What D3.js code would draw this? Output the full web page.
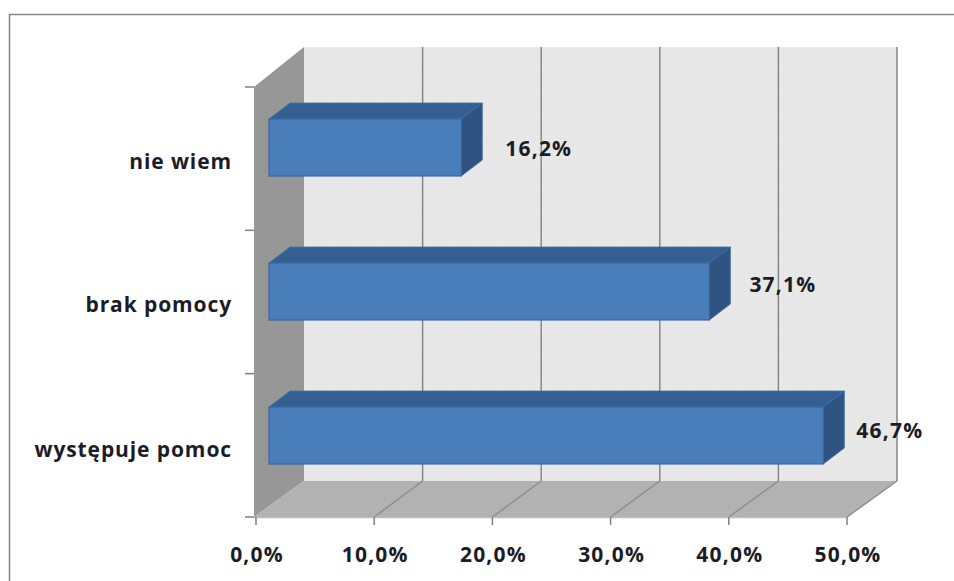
<!DOCTYPE html>
<html><head><meta charset="utf-8">
<script src="https://cdnjs.cloudflare.com/ajax/libs/d3/7.8.5/d3.min.js"></script>
<style>html,body{margin:0;padding:0;background:#fff;overflow:hidden}svg{display:block}
text{font-family:"Open Sans",sans-serif;font-weight:700;fill:#1c1c26;font-size:21px}</style></head>
<body><svg id="c" width="954" height="581"></svg>
<script>
const categories = ["nie wiem","brak pomocy","występuje pomoc"];
const values = [16.2,37.1,46.7];
const valueLabels = ["16,2%","37,1%","46,7%"];
const ticks = [0,10,20,30,40,50];
const tickLabels = ["0,0%","10,0%","20,0%","30,0%","40,0%","50,0%"];

const svg = d3.select("#c");
const x = d3.scaleLinear().domain([0,50]).range([256,847]);
const xBack = d3.scaleLinear().domain([0,50]).range([304,897]);
const xBar = d3.scaleLinear().domain([0,50]).range([269,862.5]);
const y = d3.scaleBand().domain(categories).range([87,517]);
const yBar = d3.scaleBand().domain(categories).range([119,551]);
const yT=y.range()[0], yB=y.range()[1], yBackT=47, yBackB=481;
const barH=57, barDx=21, barDy=-16;
const labelDx=[44,40,33], labelDy=[37,29,31], catDy=[50,49,50];
const pts = a => a.map(p=>p.join(",")).join(" ");

const defs=svg.append("defs");
const pat=defs.append("pattern").attr("id","dots").attr("width",3).attr("height",3).attr("patternUnits","userSpaceOnUse");
pat.append("rect").attr("width",3).attr("height",3).attr("fill","#e8e8e8");
pat.append("rect").attr("width",1).attr("height",1).attr("fill","#e2e2e2");

svg.append("rect").attr("x",9.5).attr("y",14.5).attr("width",960).attr("height",580)
  .attr("fill","#fff").attr("stroke","#868686").attr("stroke-width",1.5);

const x0=x(0), x1=x(50);
svg.append("rect").attr("x",xBack(0)).attr("y",yBackT).attr("width",xBack(50)-xBack(0)).attr("height",yBackB-yBackT).attr("fill","url(#dots)");
svg.append("polygon").attr("points",pts([[x0-2,yT],[xBack(0),yBackT],[xBack(0),yBackB],[x0-2,yB]])).attr("fill","#979797");
svg.append("polygon").attr("points",pts([[x0-2,yB],[xBack(0),yBackB],[xBack(50),yBackB],[x1,yB]])).attr("fill","#b2b2b2");

ticks.slice(1).forEach(t=>{
  svg.append("line").attr("x1",xBack(t)).attr("x2",xBack(t)).attr("y1",yBackT).attr("y2",yBackB)
    .attr("stroke",t===50?"#a0a0a0":"#808080").attr("stroke-width",t===50?2:1.4);
  svg.append("line").attr("x1",x(t)).attr("y1",yB).attr("x2",xBack(t)).attr("y2",yBackB).attr("stroke","#8c8c8c").attr("stroke-width",1.4);
});

svg.append("line").attr("x1",x0-2).attr("x2",x1).attr("y1",yB+.5).attr("y2",yB+.5).attr("stroke","#bcbcbc").attr("stroke-width",1.5);
svg.append("line").attr("x1",x0-11).attr("x2",x0-2).attr("y1",yB).attr("y2",yB).attr("stroke","#808080").attr("stroke-width",1.5);
ticks.forEach(t=>{
  svg.append("line").attr("x1",x(t)).attr("x2",x(t)).attr("y1",yB).attr("y2",yB+8).attr("stroke","#808080").attr("stroke-width",1.5);
});
categories.forEach(c=>{
  svg.append("line").attr("x1",x0-11).attr("x2",x0-2).attr("y1",y(c)).attr("y2",y(c)).attr("stroke","#808080").attr("stroke-width",1.5);
});
svg.selectAll("text.tick").data(ticks).join("text").attr("class","tick")
  .attr("x",d=>x(d)+1).attr("y",562).attr("text-anchor","middle").attr("letter-spacing",1.2)
  .text((d,i)=>tickLabels[i]);

categories.forEach((c,i)=>{
  const l=xBar(0), r=xBar(values[i]), t=yBar(c), b=t+barH;
  svg.append("polygon").attr("points",pts([[l,t],[l+barDx,t+barDy],[r+barDx,t+barDy],[r,t]])).attr("fill","#345f93").attr("stroke","#3f6ea5").attr("stroke-width",.8);
  svg.append("polygon").attr("points",pts([[r,t],[r+barDx,t+barDy],[r+barDx,b+barDy],[r,b]])).attr("fill","#2f5482").attr("stroke","#3f6ea5").attr("stroke-width",.8);
  svg.append("rect").attr("x",l).attr("y",t).attr("width",r-l).attr("height",barH).attr("fill","#4a7ebb").attr("stroke","#3a689f").attr("stroke-width",1.2);
  svg.append("text").attr("x",r+labelDx[i]).attr("y",t+labelDy[i]).attr("letter-spacing",1.2).text(valueLabels[i]);
  svg.append("text").attr("x",232).attr("y",t+catDy[i]).attr("text-anchor","end").attr("letter-spacing",.9).text(c);
});
</script></body></html>
